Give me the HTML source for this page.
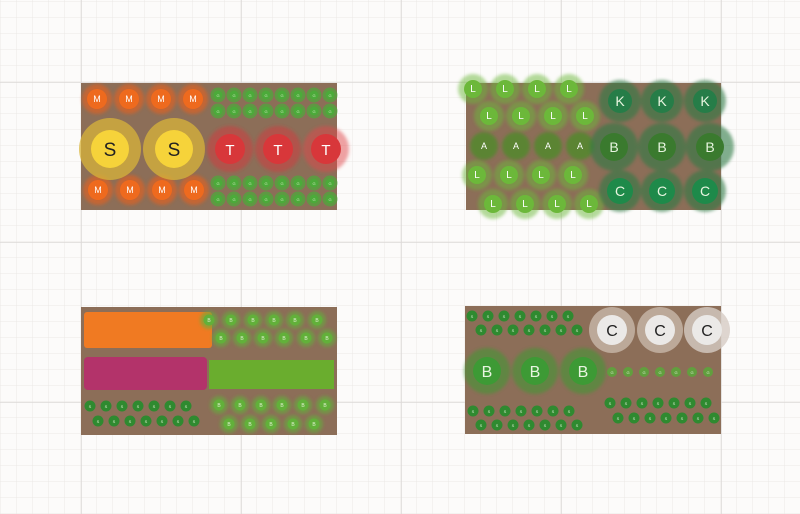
<!DOCTYPE html>
<html><head><meta charset="utf-8"><style>
html,body{margin:0;padding:0;background:#fcfbfa;}
svg{display:block;font-family:"Liberation Sans",sans-serif;}
</style></head><body>
<svg width="800" height="514" viewBox="0 0 800 514" xmlns="http://www.w3.org/2000/svg">
<defs>
<pattern id="mi" width="16" height="16" patternUnits="userSpaceOnUse" x="1" y="2"><path d="M16 0V16M0 16H16" stroke="#ebe8e6" stroke-width="1" fill="none"/></pattern>
<pattern id="ma" width="160" height="160" patternUnits="userSpaceOnUse" x="81" y="82"><path d="M0 0V160M0 0H160" stroke="#dcd9d7" stroke-width="1.5" fill="none"/></pattern>
<filter id="bl" x="-50%" y="-50%" width="200%" height="200%"><feGaussianBlur stdDeviation="1.5"/></filter>
<g id="grow"><circle cx="218" cy="0" r="7.5" opacity=".7"/><circle cx="234" cy="0" r="7.5" opacity=".7"/><circle cx="250" cy="0" r="7.5" opacity=".7"/><circle cx="266" cy="0" r="7.5" opacity=".7"/><circle cx="282" cy="0" r="7.5" opacity=".7"/><circle cx="298" cy="0" r="7.5" opacity=".7"/><circle cx="314" cy="0" r="7.5" opacity=".7"/><circle cx="330" cy="0" r="7.5" opacity=".7"/><circle cx="218" cy="0" r="4.5"/><circle cx="234" cy="0" r="4.5"/><circle cx="250" cy="0" r="4.5"/><circle cx="266" cy="0" r="4.5"/><circle cx="282" cy="0" r="4.5"/><circle cx="298" cy="0" r="4.5"/><circle cx="314" cy="0" r="4.5"/><circle cx="330" cy="0" r="4.5"/></g>
</defs>
<rect width="800" height="514" fill="#fcfbfa"/>
<rect width="800" height="514" fill="url(#mi)"/>
<rect width="800" height="514" fill="url(#ma)"/>
<g fill="#8c6e58">
<rect x="81" y="83" width="256" height="127"/>
<rect x="466" y="83" width="255" height="127"/>
<rect x="81" y="307" width="256" height="128"/>
<rect x="465" y="306" width="256" height="128"/>
</g>

<!-- Bed 1 -->
<g font-size="9" fill="#fff" text-anchor="middle">
<g filter="url(#bl)" fill="#e8601c" opacity=".6">
<circle cx="97" cy="99" r="15"/><circle cx="129" cy="99" r="15"/><circle cx="161" cy="99" r="15"/><circle cx="193" cy="99" r="15"/>
<circle cx="98" cy="190" r="15"/><circle cx="130" cy="190" r="15"/><circle cx="162" cy="190" r="15"/><circle cx="194" cy="190" r="15"/>
</g>
<g fill="#ee6a1e">
<circle cx="97" cy="99" r="10"/><circle cx="129" cy="99" r="10"/><circle cx="161" cy="99" r="10"/><circle cx="193" cy="99" r="10"/>
<circle cx="98" cy="190" r="10"/><circle cx="130" cy="190" r="10"/><circle cx="162" cy="190" r="10"/><circle cx="194" cy="190" r="10"/>
</g>
<text x="97" y="102">M</text><text x="129" y="102">M</text><text x="161" y="102">M</text><text x="193" y="102">M</text>
<text x="98" y="193">M</text><text x="130" y="193">M</text><text x="162" y="193">M</text><text x="194" y="193">M</text>
</g>
<g fill="#4caa3a">
<use href="#grow" y="95"/><use href="#grow" y="111"/><use href="#grow" y="183"/><use href="#grow" y="199"/>
</g>
<g font-size="4" fill="#c9e8b8" text-anchor="middle">
<text x="218" y="97">G</text><text x="234" y="97">G</text><text x="250" y="97">G</text><text x="266" y="97">G</text><text x="282" y="97">G</text><text x="298" y="97">G</text><text x="314" y="97">G</text><text x="330" y="97">G</text>
<text x="218" y="113">G</text><text x="234" y="113">G</text><text x="250" y="113">G</text><text x="266" y="113">G</text><text x="282" y="113">G</text><text x="298" y="113">G</text><text x="314" y="113">G</text><text x="330" y="113">G</text>
<text x="218" y="185">G</text><text x="234" y="185">G</text><text x="250" y="185">G</text><text x="266" y="185">G</text><text x="282" y="185">G</text><text x="298" y="185">G</text><text x="314" y="185">G</text><text x="330" y="185">G</text>
<text x="218" y="201">G</text><text x="234" y="201">G</text><text x="250" y="201">G</text><text x="266" y="201">G</text><text x="282" y="201">G</text><text x="298" y="201">G</text><text x="314" y="201">G</text><text x="330" y="201">G</text>
</g>
<g text-anchor="middle">
<circle cx="110" cy="149" r="31" fill="#d8b43a" opacity=".75"/><circle cx="110" cy="149" r="19" fill="#f6d33a"/><text x="110" y="156" font-size="19" fill="#222">S</text>
<circle cx="174" cy="149" r="31" fill="#d8b43a" opacity=".75"/><circle cx="174" cy="149" r="19" fill="#f6d33a"/><text x="174" y="156" font-size="19" fill="#222">S</text>
<g filter="url(#bl)"><circle cx="230" cy="149" r="23" fill="#d63a3c" opacity=".5"/><circle cx="278" cy="149" r="23" fill="#d63a3c" opacity=".5"/><circle cx="326" cy="149" r="23" fill="#e0474a" opacity=".5"/></g>
<circle cx="230" cy="149" r="15" fill="#d8373a"/><text x="230" y="155" font-size="15" fill="#fff">T</text>
<circle cx="278" cy="149" r="15" fill="#d8373a"/><text x="278" y="155" font-size="15" fill="#fff">T</text>
<circle cx="326" cy="149" r="15" fill="#d8373a"/><text x="326" y="155" font-size="15" fill="#fff">T</text>
</g>

<!-- Bed 2 -->
<g text-anchor="middle" font-size="10" fill="#fff">
<g fill="#6cb83a">
<g opacity=".5" filter="url(#bl)">
<circle cx="473" cy="89" r="15"/><circle cx="505" cy="89" r="15"/><circle cx="537" cy="89" r="15"/><circle cx="569" cy="89" r="15"/>
<circle cx="489" cy="116" r="15"/><circle cx="521" cy="116" r="15"/><circle cx="553" cy="116" r="15"/><circle cx="585" cy="116" r="15"/>
<circle cx="477" cy="175" r="15"/><circle cx="509" cy="175" r="15"/><circle cx="541" cy="175" r="15"/><circle cx="573" cy="175" r="15"/>
<circle cx="493" cy="204" r="15"/><circle cx="525" cy="204" r="15"/><circle cx="557" cy="204" r="15"/><circle cx="589" cy="204" r="15"/>
</g>
<circle cx="473" cy="89" r="9"/><circle cx="505" cy="89" r="9"/><circle cx="537" cy="89" r="9"/><circle cx="569" cy="89" r="9"/>
<circle cx="489" cy="116" r="9"/><circle cx="521" cy="116" r="9"/><circle cx="553" cy="116" r="9"/><circle cx="585" cy="116" r="9"/>
<circle cx="477" cy="175" r="9"/><circle cx="509" cy="175" r="9"/><circle cx="541" cy="175" r="9"/><circle cx="573" cy="175" r="9"/>
<circle cx="493" cy="204" r="9"/><circle cx="525" cy="204" r="9"/><circle cx="557" cy="204" r="9"/><circle cx="589" cy="204" r="9"/>
</g>
<g fill="#4f8a2c" opacity=".8" filter="url(#bl)"><circle cx="484" cy="146" r="14"/><circle cx="516" cy="146" r="14"/><circle cx="548" cy="146" r="14"/><circle cx="580" cy="146" r="14"/></g>
<text x="473" y="92">L</text><text x="505" y="92">L</text><text x="537" y="92">L</text><text x="569" y="92">L</text>
<text x="489" y="119">L</text><text x="521" y="119">L</text><text x="553" y="119">L</text><text x="585" y="119">L</text>
<text x="477" y="178">L</text><text x="509" y="178">L</text><text x="541" y="178">L</text><text x="573" y="178">L</text>
<text x="493" y="207">L</text><text x="525" y="207">L</text><text x="557" y="207">L</text><text x="589" y="207">L</text>
<text x="484" y="149" font-size="9">A</text><text x="516" y="149" font-size="9">A</text><text x="548" y="149" font-size="9">A</text><text x="580" y="149" font-size="9">A</text>
<g fill="#2e7a45" opacity=".6" filter="url(#bl)">
<circle cx="620" cy="101" r="21"/><circle cx="662" cy="101" r="21"/><circle cx="705" cy="101" r="21"/>
<circle cx="614" cy="147" r="24"/><circle cx="662" cy="147" r="24"/><circle cx="710" cy="147" r="24"/>
<circle cx="620" cy="191" r="21"/><circle cx="662" cy="191" r="21"/><circle cx="705" cy="191" r="21"/>
</g>
<circle cx="620" cy="101" r="12" fill="#267d48"/><circle cx="662" cy="101" r="12" fill="#267d48"/><circle cx="705" cy="101" r="12" fill="#267d48"/>
<circle cx="614" cy="147" r="14" fill="#3a7a2e"/><circle cx="662" cy="147" r="14" fill="#3a7a2e"/><circle cx="710" cy="147" r="14" fill="#3a7a2e"/>
<circle cx="620" cy="191" r="13" fill="#1e8a4a"/><circle cx="662" cy="191" r="13" fill="#1e8a4a"/><circle cx="705" cy="191" r="13" fill="#1e8a4a"/>
<g font-size="14" fill="#e8f5e0">
<text x="620" y="106">K</text><text x="662" y="106">K</text><text x="705" y="106">K</text>
<text x="614" y="152">B</text><text x="662" y="152">B</text><text x="710" y="152">B</text>
<text x="620" y="196">C</text><text x="662" y="196">C</text><text x="705" y="196">C</text>
</g>
</g>

<!-- Bed 3 -->
<rect x="84" y="312" width="128" height="36" rx="3" fill="#f07a22"/>
<rect x="84" y="357" width="123" height="33" rx="4" fill="#b3336a"/>
<rect x="209" y="360" width="125" height="29" fill="#6aad2e"/>
<g fill="#62b03a">
<g opacity=".6" filter="url(#bl)">
<circle cx="209" cy="320" r="9"/><circle cx="231" cy="320" r="9"/><circle cx="253" cy="320" r="9"/><circle cx="274" cy="320" r="9"/><circle cx="295" cy="320" r="9"/><circle cx="317" cy="320" r="9"/>
<circle cx="221" cy="338" r="9"/><circle cx="242" cy="338" r="9"/><circle cx="263" cy="338" r="9"/><circle cx="284" cy="338" r="9"/><circle cx="306" cy="338" r="9"/><circle cx="327" cy="338" r="9"/>
<circle cx="219" cy="405" r="9"/><circle cx="240" cy="405" r="9"/><circle cx="261" cy="405" r="9"/><circle cx="282" cy="405" r="9"/><circle cx="303" cy="405" r="9"/><circle cx="325" cy="405" r="9"/>
<circle cx="229" cy="424" r="9"/><circle cx="250" cy="424" r="9"/><circle cx="271" cy="424" r="9"/><circle cx="293" cy="424" r="9"/><circle cx="314" cy="424" r="9"/>
</g>
<circle cx="209" cy="320" r="5.5"/><circle cx="231" cy="320" r="5.5"/><circle cx="253" cy="320" r="5.5"/><circle cx="274" cy="320" r="5.5"/><circle cx="295" cy="320" r="5.5"/><circle cx="317" cy="320" r="5.5"/>
<circle cx="221" cy="338" r="5.5"/><circle cx="242" cy="338" r="5.5"/><circle cx="263" cy="338" r="5.5"/><circle cx="284" cy="338" r="5.5"/><circle cx="306" cy="338" r="5.5"/><circle cx="327" cy="338" r="5.5"/>
<circle cx="219" cy="405" r="5.5"/><circle cx="240" cy="405" r="5.5"/><circle cx="261" cy="405" r="5.5"/><circle cx="282" cy="405" r="5.5"/><circle cx="303" cy="405" r="5.5"/><circle cx="325" cy="405" r="5.5"/>
<circle cx="229" cy="424" r="5.5"/><circle cx="250" cy="424" r="5.5"/><circle cx="271" cy="424" r="5.5"/><circle cx="293" cy="424" r="5.5"/><circle cx="314" cy="424" r="5.5"/>
</g>
<g fill="#2f8a30">
<circle cx="90" cy="406" r="5.5"/><circle cx="106" cy="406" r="5.5"/><circle cx="122" cy="406" r="5.5"/><circle cx="138" cy="406" r="5.5"/><circle cx="154" cy="406" r="5.5"/><circle cx="170" cy="406" r="5.5"/><circle cx="186" cy="406" r="5.5"/>
<circle cx="98" cy="421" r="5.5"/><circle cx="114" cy="421" r="5.5"/><circle cx="130" cy="421" r="5.5"/><circle cx="146" cy="421" r="5.5"/><circle cx="162" cy="421" r="5.5"/><circle cx="178" cy="421" r="5.5"/><circle cx="194" cy="421" r="5.5"/>
</g>
<g font-size="5" fill="#e0f0d0" text-anchor="middle">
<text x="209" y="322">B</text><text x="231" y="322">B</text><text x="253" y="322">B</text><text x="274" y="322">B</text><text x="295" y="322">B</text><text x="317" y="322">B</text>
<text x="221" y="340">B</text><text x="242" y="340">B</text><text x="263" y="340">B</text><text x="284" y="340">B</text><text x="306" y="340">B</text><text x="327" y="340">B</text>
<text x="219" y="407">B</text><text x="240" y="407">B</text><text x="261" y="407">B</text><text x="282" y="407">B</text><text x="303" y="407">B</text><text x="325" y="407">B</text>
<text x="229" y="426">B</text><text x="250" y="426">B</text><text x="271" y="426">B</text><text x="293" y="426">B</text><text x="314" y="426">B</text>
<text x="90" y="408" font-size="4">S</text><text x="106" y="408" font-size="4">S</text><text x="122" y="408" font-size="4">S</text><text x="138" y="408" font-size="4">S</text><text x="154" y="408" font-size="4">S</text><text x="170" y="408" font-size="4">S</text><text x="186" y="408" font-size="4">S</text>
<text x="98" y="423" font-size="4">S</text><text x="114" y="423" font-size="4">S</text><text x="130" y="423" font-size="4">S</text><text x="146" y="423" font-size="4">S</text><text x="162" y="423" font-size="4">S</text><text x="178" y="423" font-size="4">S</text><text x="194" y="423" font-size="4">S</text>
</g>

<!-- Bed 4 -->
<g fill="#2f8a30">
<circle cx="472" cy="316" r="5.5"/><circle cx="488" cy="316" r="5.5"/><circle cx="504" cy="316" r="5.5"/><circle cx="520" cy="316" r="5.5"/><circle cx="536" cy="316" r="5.5"/><circle cx="552" cy="316" r="5.5"/><circle cx="568" cy="316" r="5.5"/>
<circle cx="481" cy="330" r="5.5"/><circle cx="497" cy="330" r="5.5"/><circle cx="513" cy="330" r="5.5"/><circle cx="529" cy="330" r="5.5"/><circle cx="545" cy="330" r="5.5"/><circle cx="561" cy="330" r="5.5"/><circle cx="577" cy="330" r="5.5"/>
<circle cx="473" cy="411" r="5.5"/><circle cx="489" cy="411" r="5.5"/><circle cx="505" cy="411" r="5.5"/><circle cx="521" cy="411" r="5.5"/><circle cx="537" cy="411" r="5.5"/><circle cx="553" cy="411" r="5.5"/><circle cx="569" cy="411" r="5.5"/>
<circle cx="481" cy="425" r="5.5"/><circle cx="497" cy="425" r="5.5"/><circle cx="513" cy="425" r="5.5"/><circle cx="529" cy="425" r="5.5"/><circle cx="545" cy="425" r="5.5"/><circle cx="561" cy="425" r="5.5"/><circle cx="577" cy="425" r="5.5"/>
<circle cx="610" cy="403" r="5.5"/><circle cx="626" cy="403" r="5.5"/><circle cx="642" cy="403" r="5.5"/><circle cx="658" cy="403" r="5.5"/><circle cx="674" cy="403" r="5.5"/><circle cx="690" cy="403" r="5.5"/><circle cx="706" cy="403" r="5.5"/>
<circle cx="618" cy="418" r="5.5"/><circle cx="634" cy="418" r="5.5"/><circle cx="650" cy="418" r="5.5"/><circle cx="666" cy="418" r="5.5"/><circle cx="682" cy="418" r="5.5"/><circle cx="698" cy="418" r="5.5"/><circle cx="714" cy="418" r="5.5"/>
</g>
<g fill="#5aa83a" opacity=".85">
<circle cx="612" cy="372" r="5"/><circle cx="628" cy="372" r="5"/><circle cx="644" cy="372" r="5"/><circle cx="660" cy="372" r="5"/><circle cx="676" cy="372" r="5"/><circle cx="692" cy="372" r="5"/><circle cx="708" cy="372" r="5"/>
</g>
<g text-anchor="middle">
<circle cx="612" cy="330" r="23" fill="#c8b8aa" opacity=".8"/><circle cx="612" cy="330" r="15" fill="#ebe9e7"/><text x="612" y="336" font-size="16" fill="#222">C</text>
<circle cx="660" cy="330" r="23" fill="#c8b8aa" opacity=".8"/><circle cx="660" cy="330" r="15" fill="#ebe9e7"/><text x="660" y="336" font-size="16" fill="#222">C</text>
<circle cx="707" cy="330" r="23" fill="#d6ccc4" opacity=".8"/><circle cx="707" cy="330" r="15" fill="#ebe9e7"/><text x="707" y="336" font-size="16" fill="#222">C</text>
<g filter="url(#bl)" fill="#3e9a30" opacity=".55"><circle cx="487" cy="371" r="23"/><circle cx="535" cy="371" r="23"/><circle cx="583" cy="371" r="23"/></g>
<circle cx="487" cy="371" r="14" fill="#3d9a35"/><text x="487" y="377" font-size="16" fill="#e8f5e0">B</text>
<circle cx="535" cy="371" r="14" fill="#3d9a35"/><text x="535" y="377" font-size="16" fill="#e8f5e0">B</text>
<circle cx="583" cy="371" r="14" fill="#3d9a35"/><text x="583" y="377" font-size="16" fill="#e8f5e0">B</text>
</g>
<g font-size="4" fill="#d8ecd0" text-anchor="middle">
<text x="472" y="318">S</text><text x="488" y="318">S</text><text x="504" y="318">S</text><text x="520" y="318">S</text><text x="536" y="318">S</text><text x="552" y="318">S</text><text x="568" y="318">S</text>
<text x="481" y="332">S</text><text x="497" y="332">S</text><text x="513" y="332">S</text><text x="529" y="332">S</text><text x="545" y="332">S</text><text x="561" y="332">S</text><text x="577" y="332">S</text>
<text x="473" y="413">S</text><text x="489" y="413">S</text><text x="505" y="413">S</text><text x="521" y="413">S</text><text x="537" y="413">S</text><text x="553" y="413">S</text><text x="569" y="413">S</text>
<text x="481" y="427">S</text><text x="497" y="427">S</text><text x="513" y="427">S</text><text x="529" y="427">S</text><text x="545" y="427">S</text><text x="561" y="427">S</text><text x="577" y="427">S</text>
<text x="610" y="405">S</text><text x="626" y="405">S</text><text x="642" y="405">S</text><text x="658" y="405">S</text><text x="674" y="405">S</text><text x="690" y="405">S</text><text x="706" y="405">S</text>
<text x="618" y="420">S</text><text x="634" y="420">S</text><text x="650" y="420">S</text><text x="666" y="420">S</text><text x="682" y="420">S</text><text x="698" y="420">S</text><text x="714" y="420">S</text>
<text x="612" y="374">G</text><text x="628" y="374">G</text><text x="644" y="374">G</text><text x="660" y="374">G</text><text x="676" y="374">G</text><text x="692" y="374">G</text><text x="708" y="374">G</text>
</g>
</svg>
</body></html>
